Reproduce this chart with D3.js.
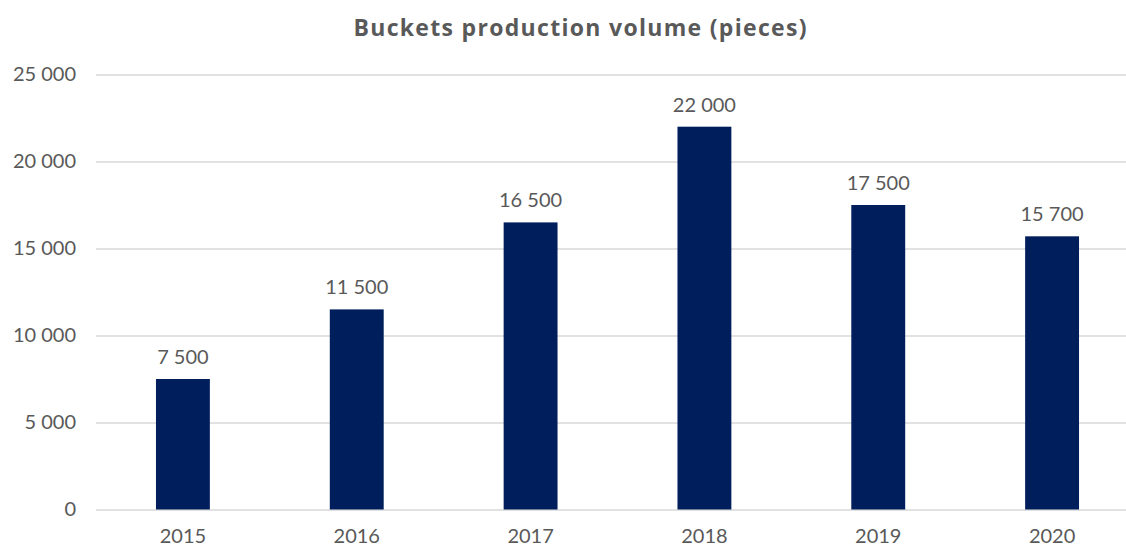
<!DOCTYPE html>
<html>
<head>
<meta charset="utf-8">
<script src="https://cdn.jsdelivr.net/npm/d3@7/dist/d3.min.js"></script>
<style>
  html, body { margin: 0; padding: 0; background: #ffffff; }
  svg { display: block; }
  text { font-family: "Lato", "Open Sans", sans-serif; fill: #595959; }
</style>
</head>
<body>
<svg id="chart" width="1126" height="546"></svg>
<script>
// Production volume per year, in pieces
const years = ["2015", "2016", "2017", "2018", "2019", "2020"];
const volumes = [7500, 11500, 16500, 22000, 17500, 15700];
const yTicks = [0, 5000, 10000, 15000, 20000, 25000];
const chartTitle = "Buckets production volume (pieces)";

const plot = { left: 96, right: 1139, top: 74.5, bottom: 509.5 };

const svg = d3.select("#chart");

// Thousands separated by a space: 15 700
const fmt = v => d3.format(",")(v).replace(/,/g, " ");

const x = d3.scaleBand()
  .domain(years)
  .range([plot.left, plot.right])
  .paddingInner(0.69)
  .paddingOuter(0.345);

const y = d3.scaleLinear()
  .domain([0, 25000])
  .range([plot.bottom, plot.top]);

// Title
svg.append("text")
  .attr("x", 580)
  .attr("y", 36)
  .attr("text-anchor", "middle")
  .attr("textLength", 453)
  .attr("lengthAdjust", "spacing")
  .style("font-family", "'Open Sans', 'Lato', sans-serif")
  .style("font-size", "23px")
  .style("font-weight", "bold")
  .text(chartTitle);

// Horizontal gridlines + value axis labels
const yAxis = d3.axisLeft(y)
  .tickValues(yTicks)
  .tickSize(-(plot.right - plot.left))
  .tickPadding(20)
  .tickFormat(fmt);

const gy = svg.append("g")
  .attr("transform", `translate(${plot.left},0)`)
  .call(yAxis);
gy.select(".domain").remove();
gy.selectAll(".tick line")
  .attr("stroke", "#d9d9d9")
  .attr("stroke-width", 1.5);
gy.selectAll(".tick text")
  .attr("x", -20)
  .style("font-size", "20px")
  .attr("fill", "#595959");

// Bars
svg.append("g")
  .selectAll("rect")
  .data(volumes)
  .join("rect")
  .attr("x", (d, i) => x(years[i]))
  .attr("width", x.bandwidth())
  .attr("y", d => y(d))
  .attr("height", d => y(0) - y(d))
  .attr("fill", "#001d5c");

// Data labels above bars
svg.append("g")
  .selectAll("text")
  .data(volumes)
  .join("text")
  .attr("x", (d, i) => x(years[i]) + x.bandwidth() / 2)
  .attr("y", d => y(d) - 15)
  .attr("text-anchor", "middle")
  .style("font-size", "20px")
  .text(d => fmt(d));

// Category axis labels
const xAxis = d3.axisBottom(x).tickSize(0).tickPadding(19);
const gx = svg.append("g")
  .attr("transform", `translate(0,${plot.bottom})`)
  .call(xAxis);
gx.select(".domain").remove();
gx.selectAll(".tick text")
  .style("font-size", "20px")
  .attr("fill", "#595959");
</script>
</body>
</html>
